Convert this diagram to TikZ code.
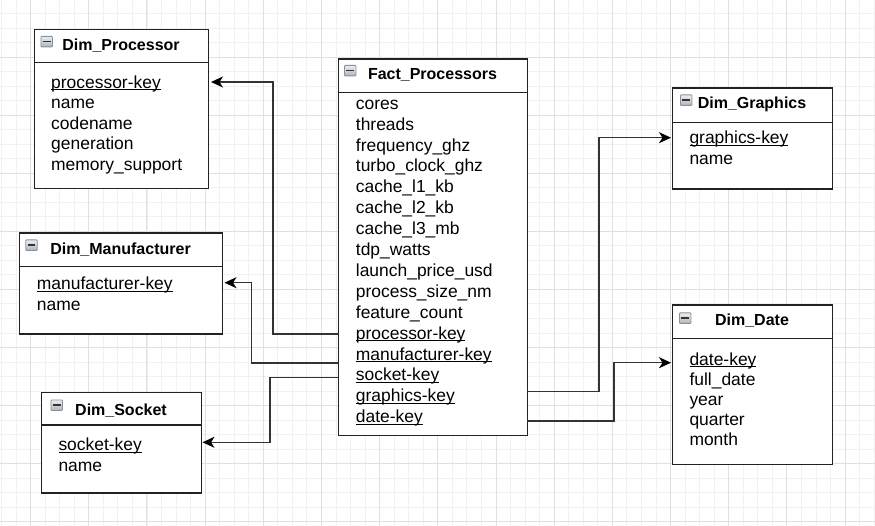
\documentclass[tikz,border=0pt]{standalone}
\usepackage{fontspec}
\setmainfont{Liberation Sans}
\usetikzlibrary{arrows.meta}

\definecolor{gridminor}{HTML}{F1F1F1}
\definecolor{gridmajor}{HTML}{E0E0E0}
\definecolor{boxline}{HTML}{222222}
\definecolor{wire}{HTML}{333333}
\definecolor{iconline}{HTML}{8A9099}
\definecolor{icontop}{HTML}{ECEEF0}
\definecolor{iconbot}{HTML}{AEB4BC}

% underlined key attribute, rule sits just under the baseline
\newcommand\keyul[1]{\setbox0=\hbox{#1}\rlap{\rule[-2pt]{\wd0}{1.1pt}}\box0}

\tikzset{
  tbl/.style={draw=boxline, line width=1.4pt, fill=white, inner sep=0pt, anchor=north west},
  tbltitle/.style={font=\fontsize{16}{19}\selectfont\bfseries, anchor=base, inner sep=0pt},
  field/.style={font=\fontsize{17.45}{21}\selectfont, anchor=base west, inner sep=0pt},
  conn/.style={draw=wire, line width=1.5pt, -{Stealth[length=12pt,width=11pt,inset=3.5pt,color=black]}},
  icon/.style={draw=iconline, line width=0.9pt, top color=icontop, bottom color=iconbot,
    minimum width=11.5pt, minimum height=10.5pt, inner sep=0pt, anchor=north west, rounded corners=0.8pt},
  iconbar/.style={draw=black!80, line width=1.6pt}
}

\begin{document}
\begin{tikzpicture}[x=1pt,y=-1pt]
\useasboundingbox (0,0) rectangle (875,526);
\fill[white] (0,0) rectangle (875,526);

% background grid
\foreach \i in {0,...,60} {
  \draw[gridminor, line width=0.9pt] ({1.5+\i*14.545},0) -- ({1.5+\i*14.545},526);
}
\foreach \j in {1,...,36} {
  \draw[gridminor, line width=0.9pt] (0,{-1+\j*14.52}) -- (875,{-1+\j*14.52});
}
\foreach \i in {0,...,14} {
  \draw[gridmajor, line width=1pt] ({30.59+\i*58.18},0) -- ({30.59+\i*58.18},526);
}
\foreach \j in {1,...,9} {
  \draw[gridmajor, line width=1pt] (0,{-1+\j*58.08}) -- (875,{-1+\j*58.08});
}

% ---------- Dim_Processor ----------
\node[tbl, minimum width=174pt, minimum height=33pt] (dproc-head) at (34,29) {};
\node[tbl, minimum width=174pt, minimum height=126pt] (dproc-body) at (34,62) {};
\node[icon] (dproc-ic) at (40.5,36) {};
\draw[iconbar] ([xshift=2.3pt]dproc-ic.west) -- ([xshift=-2.3pt]dproc-ic.east);
\node[tbltitle] (dproc-t) at (121,50.7) {Dim\_Processor};
\node[field] (dproc-f1) at (51,88.3) {\keyul{processor-key}};
\node[field] (dproc-f2) at (51,109) {name};
\node[field] (dproc-f3) at (51,129.5) {codename};
\node[field] (dproc-f4) at (51,150) {generation};
\node[field] (dproc-f5) at (51,170.5) {memory\_support};

% ---------- Dim_Manufacturer ----------
\node[tbl, minimum width=203pt, minimum height=33.4pt] (dman-head) at (19,232.3) {};
\node[tbl, minimum width=203pt, minimum height=67.6pt] (dman-body) at (19,265.7) {};
\node[icon] (dman-ic) at (25.3,239.5) {};
\draw[iconbar] ([xshift=2.3pt]dman-ic.west) -- ([xshift=-2.3pt]dman-ic.east);
\node[tbltitle] (dman-t) at (120.5,254.3) {Dim\_Manufacturer};
\node[field] (dman-f1) at (36.7,290) {\keyul{manufacturer-key}};
\node[field] (dman-f2) at (36.7,311) {name};

% ---------- Dim_Socket ----------
\node[tbl, minimum width=160pt, minimum height=32.6pt] (dsock-head) at (41,391.7) {};
\node[tbl, minimum width=160pt, minimum height=68pt] (dsock-body) at (41,424.3) {};
\node[icon] (dsock-ic) at (50.5,399.5) {};
\draw[iconbar] ([xshift=2.3pt]dsock-ic.west) -- ([xshift=-2.3pt]dsock-ic.east);
\node[tbltitle] (dsock-t) at (121,415) {Dim\_Socket};
\node[field] (dsock-f1) at (58.3,450.7) {\keyul{socket-key}};
\node[field] (dsock-f2) at (58.3,471.3) {name};

% ---------- Fact_Processors ----------
\node[tbl, minimum width=189pt, minimum height=33.4pt] (fact-head) at (338,58.3) {};
\node[tbl, minimum width=189pt, minimum height=343.3pt] (fact-body) at (338,91.7) {};
\node[icon] (fact-ic) at (344,65) {};
\draw[iconbar] ([xshift=2.3pt]fact-ic.west) -- ([xshift=-2.3pt]fact-ic.east);
\node[tbltitle] (fact-t) at (432.5,80) {Fact\_Processors};
\foreach \txt [count=\k from 0] in {cores, threads, frequency\_ghz, turbo\_clock\_ghz,
    cache\_l1\_kb, cache\_l2\_kb, cache\_l3\_mb, tdp\_watts, launch\_price\_usd,
    process\_size\_nm, feature\_count} {
  \node[field] (fact-m\k) at (355.7,{109.3+\k*20.89}) {\txt};
}
\node[field] (fact-k1) at (355.7,339.1) {\keyul{processor-key}};
\node[field] (fact-k2) at (355.7,360.0) {\keyul{manufacturer-key}};
\node[field] (fact-k3) at (355.7,380.9) {\keyul{socket-key}};
\node[field] (fact-k4) at (355.7,401.8) {\keyul{graphics-key}};
\node[field] (fact-k5) at (355.7,422.7) {\keyul{date-key}};

% ---------- Dim_Graphics ----------
\node[tbl, minimum width=160pt, minimum height=34.4pt] (dgfx-head) at (672,87.3) {};
\node[tbl, minimum width=160pt, minimum height=66.6pt] (dgfx-body) at (672,121.7) {};
\node[icon] (dgfx-ic) at (680,94.5) {};
\draw[iconbar] ([xshift=2.3pt]dgfx-ic.west) -- ([xshift=-2.3pt]dgfx-ic.east);
\node[tbltitle] (dgfx-t) at (752,109) {Dim\_Graphics};
\node[field] (dgfx-f1) at (689.3,144) {\keyul{graphics-key}};
\node[field] (dgfx-f2) at (689.3,165) {name};

% ---------- Dim_Date ----------
\node[tbl, minimum width=160pt, minimum height=33.4pt] (ddate-head) at (672,304.3) {};
\node[tbl, minimum width=160pt, minimum height=126.3pt] (ddate-body) at (672,337.7) {};
\node[icon] (ddate-ic) at (679,312.5) {};
\draw[iconbar] ([xshift=2.3pt]ddate-ic.west) -- ([xshift=-2.3pt]ddate-ic.east);
\node[tbltitle] (ddate-t) at (752,325.7) {Dim\_Date};
\node[field] (ddate-f1) at (689.3,365) {\keyul{date-key}};
\node[field] (ddate-f2) at (689.3,385) {full\_date};
\node[field] (ddate-f3) at (689.3,405) {year};
\node[field] (ddate-f4) at (689.3,425.5) {quarter};
\node[field] (ddate-f5) at (689.3,445.5) {month};

% ---------- connector end points ----------
\coordinate (out-proc) at (338,334);
\coordinate (out-man)  at (338,363);
\coordinate (out-sock) at (338,377.7);
\coordinate (out-gfx)  at (527,391.7);
\coordinate (out-date) at (527,421);
\coordinate (in-proc)  at (211,82);
\coordinate (in-man)   at (224.5,282.7);
\coordinate (in-sock)  at (202.5,442.3);
\coordinate (in-gfx)   at (671,137.7);
\coordinate (in-date)  at (671,362.7);

% ---------- relationships ----------
\draw[conn] (out-proc) -- ++(-65,0) |- (in-proc);
\draw[conn] (out-man)  -- ++(-86.3,0) |- (in-man);
\draw[conn] (out-sock) -- ++(-68,0) |- (in-sock);
\draw[conn] (out-gfx)  -- ++(72,0) |- (in-gfx);
\draw[conn] (out-date) -- ++(87,0) |- (in-date);
\end{tikzpicture}
\end{document}
